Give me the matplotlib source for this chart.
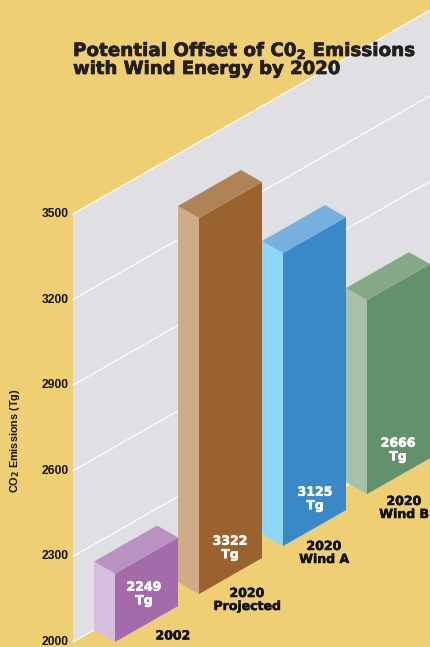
import matplotlib
matplotlib.use("Agg")
import matplotlib.pyplot as plt
import matplotlib.patheffects as pe
from matplotlib.patches import Polygon
from matplotlib.transforms import Affine2D

plt.rcParams['font.family'] = ['DejaVu Sans']
plt.rcParams['mathtext.fontset'] = 'custom'
plt.rcParams['mathtext.bf'] = 'DejaVu Sans:bold'
plt.rcParams['mathtext.rm'] = 'DejaVu Sans:bold'

# data
categories = ["2002", "2020\nProjected", "2020\nWind A", "2020\nWind B"]
bar_labels = ["2249\nTg", "3322\nTg", "3125\nTg", "2666\nTg"]
# tops and bases as drawn (the printed labels differ a bit)
drawn_values = [2240, 3318, 3027, 2694]
drawn_bases = [2000, 2000, 2000, 2014]
y_ticks = [2000, 2300, 2600, 2900, 3200, 3500]

# colours: front, top, side
bar_colors = [
    ("#A46BAB", "#BA92C2", "#D6BEDE"),
    ("#99622E", "#B08355", "#CFAB88"),
    ("#3B88C9", "#76B0DF", "#8DD7F9"),
    ("#63916C", "#85A887", "#A6C0AA"),
]
BG = "#EFCF73"
WALL = "#E0DFE3"

fig = plt.figure(figsize=(4.30, 6.47), dpi=100, facecolor=BG)
ax = fig.add_axes([0, 0, 1, 1])
ax.set_xlim(0, 430)
ax.set_ylim(647, 0)
ax.axis("off")

# oblique scale: u runs along the wall, v is the value axis
SLOPE = -0.571
PX_PER_UNIT = 428 / 1500
X0, Y0 = 73, 642
skew = Affine2D.from_values(1, SLOPE, 0, -PX_PER_UNIT, X0, Y0 + 2000 * PX_PER_UNIT)
wall_tf = skew + ax.transData
U_MAX = 357

heavy = [pe.withStroke(linewidth=0.5, foreground="#231F20")]
heavy_white = [pe.withStroke(linewidth=0.4, foreground="white")]
heavy_black = [pe.withStroke(linewidth=0.35, foreground="#111111")]

# wall
ax.add_patch(Polygon([(0, 2000), (U_MAX, 2000), (U_MAX, 3500), (0, 3500)],
                     transform=wall_tf, fc=WALL, ec="none", zorder=1))
for v in y_ticks:
    ax.plot([0, U_MAX], [v, v], transform=wall_tf, color="white", lw=0.8, zorder=2)
    ax.text(69, skew.transform((0, v))[1], str(v), ha="right", va="center",
            fontsize=8.7, fontweight="bold", color="#111111",
            family="Liberation Sans", zorder=6)

# bars, each sits on the wall's base line
DX, DY = 21, 12
WIDTH = 63
starts = [21, 105, 189, 273]


def px(a, v, fwd=1):
    x, y = skew.transform((a, v))
    return (x + DX * fwd, y + DY * fwd)


for u, val, base, cols in zip(starts, drawn_values, drawn_bases, bar_colors):
    f = [px(u, base), px(u + WIDTH, base), px(u + WIDTH, val), px(u, val)]
    s = [px(u, base, 0), px(u, base), px(u, val), px(u, val, 0)]
    t = [px(u, val, 0), px(u + WIDTH, val, 0), px(u + WIDTH, val), px(u, val)]
    ax.add_patch(Polygon(s, fc=cols[2], ec="none", zorder=3))
    ax.add_patch(Polygon(f, fc=cols[0], ec="none", zorder=3))
    ax.add_patch(Polygon(t, fc=cols[1], ec="none", zorder=3))

# label placement
value_xy = [(144, 594), (230, 548), (315, 499), (398, 450)]
cat_xy = [(173, 636), (247, 600), (324, 553), (404, 508)]
for lab, cat, vp, cp in zip(bar_labels, categories, value_xy, cat_xy):
    ax.text(vp[0], vp[1], lab, ha="center", va="center", color="white", fontsize=9,
            fontweight="bold", linespacing=1.05, zorder=5, path_effects=heavy_white)
    ax.text(cp[0], cp[1], cat, ha="center", va="center", color="#111111", fontsize=9,
            fontweight="bold", linespacing=1.0, zorder=5, path_effects=heavy_black)

# title and axis label
ax.text(73, 56, r"Potential Offset of C0$_{\mathbf{2}}$ Emissions", fontsize=13.2,
        fontweight="bold", color="#231F20", va="baseline", zorder=7, path_effects=heavy)
ax.text(73, 74, "with Wind Energy by 2020", fontsize=13, fontweight="bold",
        color="#231F20", va="baseline", zorder=7, path_effects=heavy)
ax.text(15, 441, r"CO$_{\mathbf{2}}$ Emissions (Tg)", rotation=90, ha="center", va="center",
        fontsize=7.8, fontweight="bold", color="#111111", family="Liberation Sans")

fig.savefig("out.png", dpi=100, facecolor=BG)
